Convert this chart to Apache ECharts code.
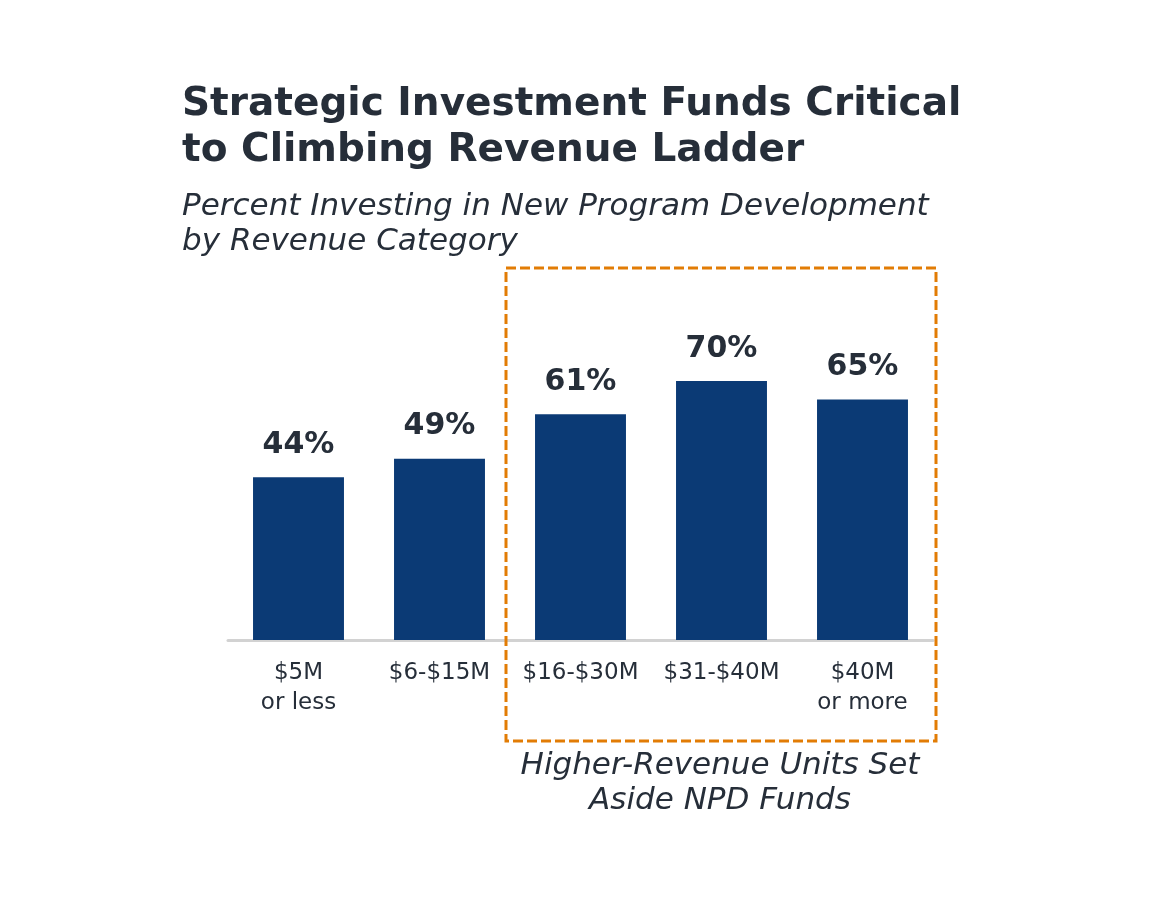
<!DOCTYPE html>
<html>
<head>
<meta charset="utf-8">
<script src="https://cdn.jsdelivr.net/npm/echarts@6/dist/echarts.min.js"></script>
<style>
    html, body { margin: 0; padding: 0; background: #fff; }
    #chart { width: 1160px; height: 900px; }
</style>
</head>
<body>
<div id="chart"></div>
<script>
    // data
    var categories = ['$5M\nor less', '$6-$15M', '$16-$30M', '$31-$40M', '$40M\nor more'];
    var percentInvesting = [44, 49, 61, 70, 65];

    var titleText = 'Strategic Investment Funds Critical\nto Climbing Revenue Ladder';
    var subText = 'Percent Investing in New Program Development\nby Revenue Category';
    var noteText = 'Higher-Revenue Units Set\nAside NPD Funds';

    var font = 'DejaVu Sans';
    var ink = '#262e39';

    var chart = echarts.init(document.getElementById('chart'));

    var option = {
        animation: false,
        backgroundColor: '#ffffff',
        title: {
            text: titleText,
            subtext: subText,
            left: 177,
            top: 77,
            itemGap: 15,
            textStyle: {
                fontFamily: font,
                fontSize: 39,
                fontWeight: 'bold',
                lineHeight: 46,
                color: ink
            },
            subtextStyle: {
                fontFamily: font,
                fontSize: 31,
                fontStyle: 'italic',
                lineHeight: 35,
                color: ink
            }
        },
        grid: {
            left: 228,
            right: 227,
            top: 270,
            bottom: 260
        },
        xAxis: {
            type: 'category',
            data: categories,
            axisLine: { lineStyle: { color: '#d2d2d2', width: 3 } },
            axisTick: { show: false },
            axisLabel: {
                interval: 0,
                hideOverlap: false,
                fontFamily: font,
                fontSize: 23,
                lineHeight: 30,
                margin: 18,
                color: ink
            }
        },
        yAxis: {
            type: 'value',
            min: 0,
            max: 100,
            show: false,
            splitLine: { show: false }
        },
        series: [{
            type: 'bar',
            data: percentInvesting,
            barWidth: '64.5%',
            itemStyle: { color: '#0b3a75' },
            label: {
                show: true,
                position: 'top',
                distance: 17,
                formatter: '{c}%',
                fontFamily: font,
                fontSize: 30,
                fontWeight: 'bold',
                color: ink
            }
        }],
        graphic: [
            {
                // dashed box around the higher-revenue groups
                type: 'rect',
                shape: { x: 506, y: 268, width: 430, height: 473 },
                style: {
                    fill: null,
                    stroke: '#e27c05',
                    lineWidth: 3,
                    lineDash: [10, 4]
                },
                z: 10
            },
            {
                type: 'text',
                x: 720,
                y: 748,
                style: {
                    text: noteText,
                    fontFamily: font,
                    fontSize: 31,
                    fontStyle: 'italic',
                    lineHeight: 35,
                    fill: ink,
                    align: 'center',
                    verticalAlign: 'top'
                }
            }
        ]
    };

    chart.setOption(option);
</script>
</body>
</html>
